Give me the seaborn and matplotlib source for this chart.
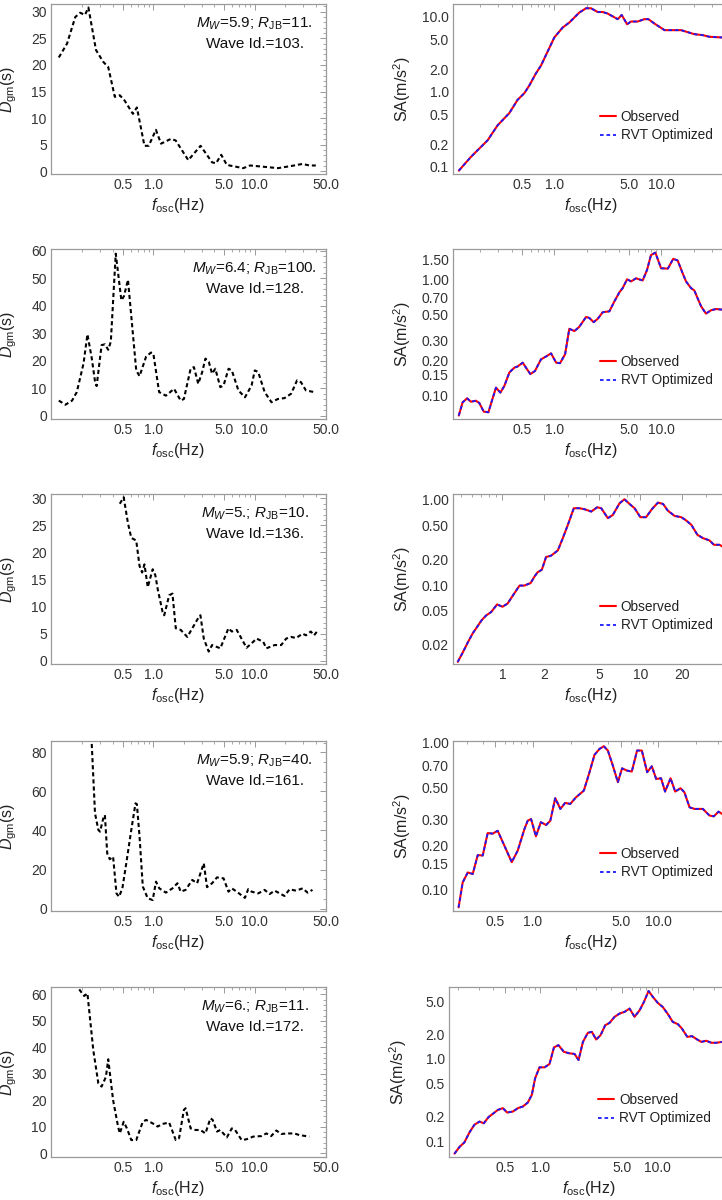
import numpy as np
import pandas as pd
import matplotlib
matplotlib.use("Agg")
import matplotlib.pyplot as plt
from matplotlib.ticker import FixedLocator, NullFormatter, LogLocator, AutoMinorLocator
import seaborn as sns

# ---------------------------------------------------------------- data
# Duration of ground motion D_gm(s) versus oscillator frequency (Hz)
dgm103_f = [0.117, 0.141, 0.170, 0.190, 0.212, 0.229, 0.272, 0.320, 0.359, 0.417, 0.467,
            0.521, 0.629, 0.688, 0.817, 0.900, 1.06, 1.19, 1.49, 1.66, 2.21, 2.92, 3.79,
            4.14, 4.67, 5.30, 7.70, 8.96, 11.6, 16.9, 22.8, 29.6, 34.4, 39.9]
dgm103 = [21.4, 24.0, 29.0, 29.8, 29.4, 30.8, 22.8, 20.6, 19.6, 14.0, 14.3,
          13.3, 10.8, 12.0, 4.8, 4.8, 7.8, 5.2, 6.1, 5.8, 2.1, 4.8, 1.7,
          1.5, 3.1, 1.2, 0.6, 1.1, 0.9, 0.6, 1.0, 1.4, 1.1, 1.1]

dgm128_f = [0.117, 0.136, 0.158, 0.176, 0.205, 0.224, 0.247, 0.266, 0.276, 0.309, 0.333,
            0.359, 0.381, 0.426, 0.484, 0.513, 0.562, 0.678, 0.731, 0.848, 0.949, 1.0,
            1.14, 1.33, 1.60, 1.86, 2.0, 2.33, 2.51, 2.77, 3.03, 3.26, 3.52, 3.79, 4.08,
            4.57, 4.92, 5.51, 5.93, 6.89, 8.0, 9.29, 10.0, 10.8, 12.5, 14.6, 16.9, 19.6,
            22.8, 26.1, 28.5, 31.9, 38.5]
dgm128 = [5.5, 4.0, 5.5, 8.6, 19.0, 29.6, 21.0, 12.5, 10.8, 25.7, 26.0,
          24.0, 27.0, 59.0, 42.0, 43.5, 49.5, 16.5, 14.4, 21.5, 23.0, 22.6,
          8.6, 7.3, 9.8, 5.5, 6.1, 17.1, 17.7, 11.6, 15.9, 20.8, 19.6, 15.3, 17.1,
          10.4, 11.0, 17.1, 16.5, 9.2, 6.7, 11.0, 16.5, 15.9, 8.6, 4.9, 6.1, 6.4,
          8.0, 12.9, 12.2, 9.2, 8.6]

dgm136_f = [0.467, 0.510, 0.562, 0.606, 0.678, 0.731, 0.775, 0.817, 0.881, 0.985, 1.046,
            1.102, 1.233, 1.28, 1.432, 1.543, 1.663, 1.86, 2.16, 2.81, 2.91, 3.14, 3.51,
            3.79, 4.57, 5.50, 5.93, 6.63, 8.29, 9.28, 10.4, 12.1, 13.0, 15.7, 18.2, 20.4,
            22.8, 25.5, 29.6, 31.9, 35.6, 38.4, 41.4]
dgm136 = [29.0, 30.2, 25.4, 22.7, 22.2, 17.5, 16.3, 17.8, 13.6, 16.9, 15.8,
          13.3, 9.0, 8.4, 12.1, 12.4, 6.0, 5.7, 4.4, 8.1, 8.4, 4.1, 1.7,
          2.9, 2.3, 6.0, 5.4, 5.7, 2.4, 3.2, 4.1, 3.5, 2.3, 2.9, 2.9, 4.1,
          4.4, 4.2, 5.0, 4.7, 5.4, 4.7, 5.5]

dgm161_f = [0.247, 0.266, 0.287, 0.298, 0.321, 0.333, 0.351, 0.372, 0.401, 0.433, 0.459,
            0.495, 0.541, 0.606, 0.667, 0.688, 0.731, 0.787, 0.881, 0.985, 1.062, 1.144,
            1.329, 1.543, 1.727, 1.86, 2.08, 2.42, 2.70, 3.14, 3.38, 3.79, 4.24, 4.92,
            5.50, 5.93, 6.63, 7.99, 8.61, 9.28, 10.8, 12.5, 14.0, 15.7, 17.6, 19.6, 22.0,
            25.5, 29.6, 33.1, 37.0]
dgm161 = [84.3, 48.8, 40.3, 39.4, 46.2, 47.9, 28.3, 25.3, 26.6, 7.8, 6.1,
          10.4, 23.2, 40.3, 53.9, 53.5, 36.9, 11.3, 5.3, 4.4, 13.8, 10.4,
          8.2, 10.4, 13.0, 8.7, 9.6, 14.7, 13.0, 23.2, 11.0, 13.0, 16.0, 15.5,
          8.7, 10.4, 8.7, 5.5, 10.0, 8.7, 7.8, 9.6, 7.5, 9.2, 7.8, 6.5, 9.9,
          9.2, 10.4, 8.2, 9.6]

dgm172_f = [0.186, 0.208, 0.224, 0.256, 0.287, 0.309, 0.341, 0.359, 0.401, 0.449, 0.467,
            0.510, 0.549, 0.606, 0.678, 0.787, 0.848, 0.985, 1.102, 1.233, 1.432, 1.663,
            1.792, 2.0, 2.08, 2.33, 2.60, 2.91, 3.26, 3.65, 3.84, 4.24, 4.57, 5.30, 5.93,
            6.39, 7.42, 8.29, 9.64, 11.6, 13.0, 14.5, 16.3, 18.2, 21.1, 24.5, 27.4, 34.4]
dgm172 = [61.9, 59.4, 60.4, 38.9, 26.4, 25.2, 28.9, 35.5, 20.1, 10.1, 7.5,
          11.9, 9.4, 5.0, 5.0, 11.9, 12.6, 11.3, 10.1, 11.1, 11.6, 5.0,
          5.7, 16.4, 17.0, 9.4, 8.8, 8.8, 7.5, 13.2, 12.6, 8.2, 8.8, 6.0, 9.4,
          8.8, 5.0, 5.3, 6.3, 6.5, 7.5, 6.5, 8.6, 7.3, 7.5, 7.5, 6.9, 6.3]

# Spectral acceleration SA (m/s^2): observed and RVT optimized
sa103_f = [0.128, 0.166, 0.238, 0.295, 0.380, 0.454, 0.525, 0.584, 0.674, 0.750, 0.867,
           1.0, 1.196, 1.38, 1.71, 1.98, 2.20, 2.54, 2.83, 3.15, 3.91, 4.26, 4.78, 5.21,
           6.01, 6.94, 7.56, 8.61, 10.7, 13.7, 15.3, 20.3, 24.3, 28.1, 36.9, 45.0]
sa103_obs = [0.0886, 0.135, 0.225, 0.356, 0.519, 0.78, 0.955, 1.21, 1.76, 2.22, 3.44,
             5.27, 7.14, 8.33, 11.3, 12.9, 12.9, 11.5, 11.5, 10.96, 9.23, 10.5, 7.9, 8.59,
             8.59, 9.23, 9.23, 8.07, 6.59, 6.59, 6.59, 5.83, 5.66, 5.38, 5.27, 5.3]
sa103_rvt = list(sa103_obs)

sa128_f = [0.128, 0.139, 0.153, 0.166, 0.185, 0.199, 0.219, 0.242, 0.265, 0.285, 0.313,
           0.341, 0.380, 0.423, 0.454, 0.506, 0.543, 0.597, 0.660, 0.750, 0.836, 0.931,
           1.04, 1.13, 1.26, 1.38, 1.54, 1.71, 1.98, 2.12, 2.33, 2.54, 2.83, 3.27, 3.64,
           4.05, 4.35, 4.78, 5.21, 5.80, 6.69, 7.35, 8.0, 8.79, 9.93, 11.5, 12.9, 14.2,
           15.8, 17.0, 18.9, 20.3, 23.5, 26.1, 29.1, 32.4, 36.9, 45.0]
sa128_obs = [0.0664, 0.0865, 0.0936, 0.0876, 0.0893, 0.0853, 0.0718, 0.0709, 0.0936, 0.116,
             0.105, 0.120, 0.157, 0.173, 0.177, 0.191, 0.173, 0.152, 0.162, 0.204, 0.216,
             0.230, 0.191, 0.189, 0.226, 0.376, 0.359, 0.391, 0.476, 0.467, 0.429, 0.458,
             0.523, 0.533, 0.650, 0.778, 0.848, 1.01, 0.968, 1.03, 0.987, 1.22, 1.64, 1.72,
             1.26, 1.25, 1.52, 1.47, 1.14, 0.968, 0.848, 0.809, 0.589, 0.509, 0.544, 0.558,
             0.551, 0.55]
sa128_rvt = list(sa128_obs)

sa136_f = [0.474, 0.515, 0.560, 0.609, 0.662, 0.708, 0.762, 0.828, 0.914, 1.0, 1.09,
           1.19, 1.33, 1.44, 1.60, 1.71, 1.80, 1.93, 2.07, 2.25, 2.52, 2.74, 2.98, 3.29,
           3.62, 3.94, 4.40, 4.86, 5.20, 5.81, 6.31, 7.06, 7.67, 8.34, 9.07, 10.0, 11.0,
           12.1, 13.4, 14.6, 15.8, 17.7, 19.8, 21.5, 23.4, 25.9, 28.4, 31.7, 34.1, 37.5,
           39.2, 45.0]
sa136_obs = [0.0126, 0.0162, 0.0212, 0.0273, 0.0332, 0.039, 0.0442, 0.0484, 0.0595, 0.0559,
             0.061, 0.0757, 0.099, 0.099, 0.106, 0.127, 0.142, 0.152, 0.214, 0.222, 0.256,
             0.357, 0.511, 0.80, 0.80, 0.778, 0.731, 0.821, 0.80, 0.611, 0.668, 0.914, 1.02,
             0.898, 0.80, 0.628, 0.628, 0.778, 0.931, 0.898, 0.75, 0.65, 0.628, 0.574, 0.511,
             0.39, 0.357, 0.335, 0.298, 0.298, 0.285, 0.27]
sa136_rvt = list(sa136_obs)

sa161_f = [0.257, 0.277, 0.304, 0.333, 0.365, 0.400, 0.438, 0.480, 0.526, 0.594, 0.681,
           0.760, 0.859, 0.912, 0.970, 1.06, 1.16, 1.28, 1.38, 1.51, 1.66, 1.81, 1.99,
           2.21, 2.55, 2.83, 3.10, 3.40, 3.68, 3.96, 4.34, 4.76, 5.14, 5.61, 6.14, 6.77,
           7.38, 8.14, 8.87, 9.60, 10.5, 11.3, 12.5, 13.6, 15.0, 16.1, 17.7, 19.4, 22.6,
           25.5, 27.6, 30.1, 32.2, 40.0]
sa161_obs = [0.0758, 0.112, 0.131, 0.128, 0.172, 0.171, 0.243, 0.241, 0.252, 0.200, 0.154,
             0.185, 0.259, 0.295, 0.303, 0.231, 0.288, 0.276, 0.295, 0.42, 0.355, 0.39, 0.384,
             0.426, 0.473, 0.631, 0.829, 0.91, 0.949, 0.887, 0.70, 0.54, 0.671, 0.648, 0.638,
             0.887, 0.887, 0.631, 0.693, 0.568, 0.574, 0.466, 0.574, 0.466, 0.491, 0.461,
             0.364, 0.355, 0.355, 0.32, 0.316, 0.34, 0.328, 0.33]
sa161_rvt = list(sa161_obs)

sa172_f = [0.187, 0.206, 0.227, 0.251, 0.276, 0.305, 0.332, 0.364, 0.396, 0.437, 0.482,
           0.524, 0.586, 0.646, 0.713, 0.785, 0.849, 0.906, 0.987, 1.09, 1.20, 1.31, 1.43,
           1.59, 1.77, 1.96, 2.12, 2.31, 2.54, 2.75, 2.99, 3.26, 3.57, 3.89, 4.29, 4.73,
           5.21, 5.75, 6.34, 7.0, 7.62, 8.34, 9.08, 10.0, 11.0, 12.2, 13.4, 14.8, 16.0,
           17.8, 19.5, 21.6, 23.4, 25.8, 28.5, 31.4, 35.3, 45.0]
sa172_obs = [0.071, 0.0855, 0.0973, 0.129, 0.159, 0.174, 0.166, 0.197, 0.216, 0.241, 0.253,
             0.224, 0.230, 0.253, 0.265, 0.296, 0.366, 0.582, 0.791, 0.791, 0.867, 1.38, 1.47,
             1.22, 1.17, 1.15, 0.969, 1.61, 2.07, 2.13, 1.72, 1.94, 2.56, 2.74, 3.24, 3.55,
             3.72, 4.08, 3.24, 3.89, 4.91, 6.67, 5.64, 4.77, 4.27, 3.48, 2.81, 2.64, 2.34,
             1.85, 1.89, 1.72, 1.61, 1.66, 1.57, 1.57, 1.61, 1.6]
sa172_rvt = list(sa172_obs)

# Event annotations
mw_values = ["5.9", "6.4", "5.", "5.9", "6."]
rjb_values = ["11.", "100.", "10.", "40.", "11."]
wave_ids = ["103.", "128.", "136.", "161.", "172."]

# Tick values
left_xticks = [0.5, 1.0, 5.0, 10.0, 50.0]
left_xticklabels = ["0.5", "1.0", "5.0", "10.0", "50.0"]
right_xticks = [
    ([0.5, 1.0, 5.0, 10.0], ["0.5", "1.0", "5.0", "10.0"]),
    ([0.5, 1.0, 5.0, 10.0], ["0.5", "1.0", "5.0", "10.0"]),
    ([1, 2, 5, 10, 20], ["1", "2", "5", "10", "20"]),
    ([0.5, 1.0, 5.0, 10.0], ["0.5", "1.0", "5.0", "10.0"]),
    ([0.5, 1.0, 5.0, 10.0], ["0.5", "1.0", "5.0", "10.0"]),
]
right_yticks = [
    ([0.1, 0.2, 0.5, 1.0, 2.0, 5.0, 10.0], ["0.1", "0.2", "0.5", "1.0", "2.0", "5.0", "10.0"]),
    ([0.10, 0.15, 0.20, 0.30, 0.50, 0.70, 1.00, 1.50],
     ["0.10", "0.15", "0.20", "0.30", "0.50", "0.70", "1.00", "1.50"]),
    ([0.02, 0.05, 0.10, 0.20, 0.50, 1.00], ["0.02", "0.05", "0.10", "0.20", "0.50", "1.00"]),
    ([0.10, 0.15, 0.20, 0.30, 0.50, 0.70, 1.00],
     ["0.10", "0.15", "0.20", "0.30", "0.50", "0.70", "1.00"]),
    ([0.1, 0.2, 0.5, 1.0, 2.0, 5.0], ["0.1", "0.2", "0.5", "1.0", "2.0", "5.0"]),
]
left_yticks = [
    [0, 5, 10, 15, 20, 25, 30],
    [0, 10, 20, 30, 40, 50, 60],
    [0, 5, 10, 15, 20, 25, 30],
    [0, 20, 40, 60, 80],
    [0, 10, 20, 30, 40, 50, 60],
]

# ---------------------------------------------------------------- style
sns.set_style("white")
plt.rcParams["font.family"] = ["Liberation Sans", "DejaVu Sans"]
plt.rcParams["mathtext.fontset"] = "custom"
plt.rcParams["mathtext.rm"] = "Liberation Sans"
plt.rcParams["mathtext.it"] = "Liberation Sans:italic"
plt.rcParams["mathtext.bf"] = "Liberation Sans:bold"

FRAME = "#9a9a9a"
TEXT = "#333333"
LABEL = "#222222"

W, H = 722, 1200
fig = plt.figure(figsize=(W / 100, H / 100), dpi=100)


def px_axes(left, top, width, height):
    return fig.add_axes([left / W, 1 - (top + height) / H, width / W, height / H])


def frame_style(ax):
    for sp in ax.spines.values():
        sp.set_color(FRAME)
        sp.set_linewidth(0.9)
    ax.tick_params(which="both", direction="in", top=True, right=True,
                   color=FRAME, labelcolor=TEXT, labelsize=10, pad=3)
    ax.tick_params(which="major", length=4, width=0.7)
    ax.tick_params(which="minor", length=2.2, width=0.6)


row_tops = [4, 249, 494, 741, 987]
row_h = 170

dgm_sets = [(dgm103_f, dgm103), (dgm128_f, dgm128), (dgm136_f, dgm136),
            (dgm161_f, dgm161), (dgm172_f, dgm172)]
sa_sets = [(sa103_f, sa103_obs, sa103_rvt), (sa128_f, sa128_obs, sa128_rvt),
           (sa136_f, sa136_obs, sa136_rvt), (sa161_f, sa161_obs, sa161_rvt),
           (sa172_f, sa172_obs, sa172_rvt)]

left_ylims = [(-0.5, 31.45), (-1.2, 60.7), (-0.6, 30.8), (-1.2, 85.8), (-1.4, 62.8)]
right_xlims = [(0.113, 52), (0.113, 52), (0.438, 51), (0.232, 43), (0.168, 48)]
right_ylims = [(0.080, 14.7), (0.062, 1.85), (0.0119, 1.175), (0.0716, 1.03), (0.0647, 7.45)]
right_lefts = [453, 453, 453, 453, 449]

for i in range(5):
    top = row_tops[i]

    # ---- duration panel
    ax = px_axes(51, top, 275, row_h)
    f, d = dgm_sets[i]
    df = pd.DataFrame({"f": f, "d": d})
    sns.lineplot(data=df, x="f", y="d", ax=ax, color="black", lw=1.5,
                 linestyle=(0, (2.0, 1.4)), estimator=None, sort=False)
    ax.set_xscale("log")
    ax.set_xlim(0.098, 50.3)
    ax.set_ylim(*left_ylims[i])
    ax.xaxis.set_major_locator(FixedLocator(left_xticks))
    ax.set_xticklabels(left_xticklabels)
    ax.xaxis.set_minor_locator(LogLocator(base=10, subs=np.arange(2, 10)))
    ax.xaxis.set_minor_formatter(NullFormatter())
    ax.set_yticks(left_yticks[i])
    ax.yaxis.set_minor_locator(AutoMinorLocator(5 if i != 3 else 4))
    ax.set_xlim(0.098, 50.3)
    ax.set_ylim(*left_ylims[i])
    frame_style(ax)
    ax.set_xlabel(r"$f_{\mathrm{osc}}$(Hz)", fontsize=11.5, color=LABEL)
    ax.set_ylabel(r"$D_{\mathrm{gm}}$(s)", fontsize=11.5, color=LABEL)
    ax.xaxis.set_label_coords(0.46, -0.13)
    ax.yaxis.set_label_coords(-0.115, 0.5)
    ax.text(0.74, 0.885, r"$M_W$=" + mw_values[i] + r"; $R_{\mathrm{JB}}$=" + rjb_values[i],
            transform=ax.transAxes, ha="center", va="center", fontsize=11, color="#111111")
    ax.text(0.74, 0.765, "Wave Id.=" + wave_ids[i], transform=ax.transAxes,
            ha="center", va="center", fontsize=11, color="#111111")

    # ---- response spectrum panel
    rl = right_lefts[i]
    ax2 = px_axes(rl, top, 738 - rl, row_h)
    sf, obs, rvt = sa_sets[i]
    sdf = pd.DataFrame({"f": sf, "obs": obs, "rvt": rvt})
    sns.lineplot(data=sdf, x="f", y="obs", ax=ax2, color="#ff0000", lw=1.5,
                 estimator=None, sort=False, label="Observed")
    sns.lineplot(data=sdf, x="f", y="rvt", ax=ax2, color="#1a1aff", lw=1.3,
                 linestyle=(0, (2.0, 1.6)), estimator=None, sort=False, label="RVT Optimized")
    ax2.set_xscale("log")
    ax2.set_yscale("log")
    xt, xl = right_xticks[i]
    ax2.xaxis.set_major_locator(FixedLocator(xt))
    ax2.set_xticklabels(xl)
    ax2.xaxis.set_minor_locator(LogLocator(base=10, subs=np.arange(2, 10)))
    ax2.xaxis.set_minor_formatter(NullFormatter())
    yt, yl = right_yticks[i]
    ax2.yaxis.set_major_locator(FixedLocator(yt))
    ax2.set_yticklabels(yl)
    ax2.yaxis.set_minor_locator(LogLocator(base=10, subs=np.arange(2, 10)))
    ax2.yaxis.set_minor_formatter(NullFormatter())
    ax2.set_xlim(*right_xlims[i])
    ax2.set_ylim(*right_ylims[i])
    frame_style(ax2)
    ax2.set_xlabel(r"$f_{\mathrm{osc}}$(Hz)", fontsize=11.5, color=LABEL)
    ax2.set_ylabel(r"SA(m/s$^2$)", fontsize=11.5, color=LABEL)
    ax2.xaxis.set_label_coords(0.485, -0.13)
    ax2.yaxis.set_label_coords(-0.14, 0.5)
    ax2.legend(loc="upper left", bbox_to_anchor=(0.515, 0.375), frameon=False,
               fontsize=9.8, handlelength=1.2, handletextpad=0.35, labelspacing=0.3,
               borderpad=0.0, borderaxespad=0.0, labelcolor=LABEL)

fig.savefig("out.png", dpi=100)
